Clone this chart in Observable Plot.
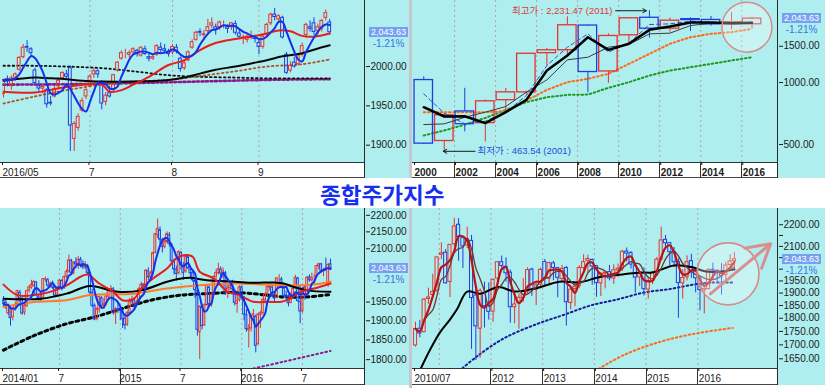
<!DOCTYPE html>
<html><head><meta charset="utf-8">
<script src="https://cdn.jsdelivr.net/npm/d3@7"></script>
<script src="https://cdn.jsdelivr.net/npm/@observablehq/plot@0.6"></script>
<style>
html,body{margin:0;padding:0;background:#fff;}
body{width:825px;height:388px;overflow:hidden;position:relative;font-family:"Liberation Sans",Arial,"Noto Sans CJK KR",sans-serif;}
.panel{position:absolute;background:#afeeee;overflow:hidden;}
.strip{position:absolute;background:#fff;border-top:1px solid #333;border-bottom:1px solid #444;box-sizing:border-box;}
.vline{position:absolute;background:#2a2a2a;width:1px;}
.sep{position:absolute;background:#333;width:1px;}
.tag{position:absolute;background:#78a0f0;color:#fff;font-size:9px;line-height:10px;height:10px;text-align:center;box-sizing:border-box;}
.pct{position:absolute;color:#3a74e4;font-size:10px;line-height:10px;text-align:center;}
#title{position:absolute;left:320px;top:178px;font-family:"Noto Sans CJK KR",sans-serif;font-weight:bold;font-size:21.5px;line-height:31px;height:31px;color:#1530f0;transform:scaleX(1.05);transform-origin:0 0;white-space:nowrap;}
#bar1,#bar2{position:absolute;left:409px;width:3px;background:#c4c8cc;}
</style></head><body>
<div id="bar1" style="top:0;height:178px"></div>
<div id="bar2" style="top:208px;height:180px"></div>
<div id="title">종합주가지수</div>
<script>
// ===== common values =====
const lastClose = 2043.63;
const lastCloseText = "2,043.63";
const lastChangeText = "-1.21%";

// ===== Panel 1: daily (2016/05/31 - 2016/09/30) =====
const dailyOHLC = [
 [1965,1984,1960,1983],[1984,1988,1974,1982],[1976,1988,1970,1985],[1986,1992,1981,1990],[1996,2013,1994,2011],
 [2012,2028,2010,2024],[2025,2033,2018,2024],[2022,2024,2012,2017],[1995,1998,1978,1979],[1975,1982,1968,1972],
 [1972,1978,1965,1974],[1970,1972,1947,1952],[1954,1962,1950,1953],[1962,1975,1960,1971],[1975,1985,1972,1982],
 [1985,1993,1982,1992],[1990,1995,1984,1987],[1998,2001,1892,1925],[1908,1930,1892,1927],[1922,1940,1918,1936],
 [1944,1960,1942,1956],[1962,1972,1958,1970],[1975,1990,1973,1987],[1990,1998,1985,1994],[1994,1996,1985,1990],
 [1980,1982,1945,1953],[1955,1967,1950,1963],[1966,1975,1960,1962],[1970,1990,1968,1989],[1995,2006,1993,2005],
 [2010,2020,2008,2017],[2016,2022,2010,2016],[2015,2020,2011,2017],[2018,2024,2014,2022],[2020,2022,2012,2016],
 [2014,2025,2012,2024],[2022,2026,2014,2016],[2012,2016,2006,2010],[2010,2016,2008,2012],[2015,2028,2013,2026],
 [2024,2030,2018,2021],[2022,2028,2017,2020],[2019,2022,2012,2016],[2018,2028,2015,2025],[2024,2028,2016,2019],
 [2010,2012,1993,1997],[1998,2008,1995,2004],[2008,2020,2006,2018],[2024,2034,2022,2031],[2034,2045,2032,2043],
 [2044,2048,2038,2043],[2040,2046,2036,2041],[2045,2060,2042,2050],[2052,2062,2048,2055],[2050,2054,2040,2047],
 [2050,2058,2046,2056],[2054,2058,2048,2054],[2050,2053,2042,2048],[2050,2056,2046,2055],[2054,2058,2040,2043],
 [2042,2046,2035,2038],[2036,2040,2028,2037],[2034,2040,2030,2038],[2040,2045,2034,2040],[2038,2040,2030,2035],
 [2030,2034,2015,2025],[2025,2040,2022,2038],[2040,2055,2038,2053],[2055,2068,2052,2066],[2066,2074,2058,2063],
 [2060,2066,2055,2064],[2062,2064,2035,2037],[2015,2018,1990,1992],[1995,2006,1992,2001],[2005,2012,1998,2000],
 [2003,2016,2001,2014],[2015,2030,2012,2026],[2040,2055,2036,2053],[2050,2058,2044,2048],[2055,2062,2040,2044],
 [2045,2054,2040,2050],[2048,2060,2044,2058],[2062,2072,2058,2068],[2056,2060,2040,2043.63]
];
const dailyMA20 = [[0,1968],[8,1967],[16,1974],[25,1977],[27,1968],[30,1970],[33,1977],[37,1987],[42,2002],[46,2008],[50,2021],[54,2030],[59,2035],[63,2038],[67,2042],[70,2046],[73,2045],[76,2039],[79,2038],[83,2042]];
const dailyMA60 = [[0,1982],[8,1986],[12,1985],[16,1984],[20,1982],[25,1981],[33,1981],[42,1983],[46,1986],[50,1991],[54,1996],[59,2000],[63,2004],[67,2008],[71,2013],[76,2017],[80,2023],[83,2027]];
const dailyMA120 = [[0,1953],[8,1962],[16,1970],[25,1977],[33,1981],[42,1983],[50,1988],[59,1994],[67,2000],[76,2003],[83,2009]];
const dailyMA200 = [[0,2001],[8,2001],[16,2000],[25,1998],[33,1994],[42,1989],[50,1987],[59,1986],[67,1985],[83,1985]];
const dailyMA240 = [[0,1977],[16,1977.5],[33,1979],[50,1981],[67,1983],[83,1984]];
const dailyTickIdx = [0,22,43,65];
const dailyTickLabels = ["2016/05","7","8","9"];
const dailyYTicks = [1900,1950,2000];

// ===== Panel 2: yearly 2000 - 2016 (log) =====
const yearlyYears = [2000,2001,2002,2003,2004,2005,2006,2007,2008,2009,2010,2011,2012,2013,2014,2015,2016];
const yearlyOHLC = [
 [1028,1066,500,505],[520,704,463.54,693.7],[724,937.6,576,627.6],[635,822,515,810.7],[821,936,719,895.9],
 [896,1379,870,1379.4],[1389,1464,1203,1434.5],[1435,2085,1345,1897.1],[1891,1901,892,1124.5],[1132,1723,992,1682.8],
 [1696,2052,1532,2051],[2063,2231.47,1644,1825.7],[1826,2057,1758,1997],[2031,2063,1770,2011],[2013,2093,1878,1915.6],
 [1914,2189,1800,1961.3],[1918,2073,1817,2043.63]
];
const yearlyMA3 = [759,684,686,635,718,824,1143,1352,1660,1441,1542,1802,1870,1956,1956,1942,1949];
const yearlyMA5 = [625,630,678,718,765,898,1030,1289,1327,1484,1530,1723,1737,1891,1942,1956,1956];
const yearlyMA2 = [881,710,630,649,718,865,1209,1484,1723,1404,1553,1913,1927,1985,1962,1956,1956];
const yearlyMA10 = [718,718,718,718,725,818,921,1004,1042,1102,1232,1378,1542,1660,1724,1757,1822];
const yearlyMA20 = [553,585,625,673,736,803,849,871,874,942,1004,1081,1143,1187,1232,1279,1327];
const yearlyTickYears = [2000,2002,2004,2006,2008,2010,2012,2014,2016];
const yearlyYTicks = [500,1000,1500];
const highNote = {text:"최고가 : 2,231.47 (2011)", year:2011, value:2231.47};
const lowNote = {text:"최저가 : 463.54 (2001)", year:2001, value:463.54};

// ===== Panel 3: weekly 2014/01 - 2016/09 (log) =====
const weeklyOHLC = [
 [1953,1965,1936,1946],[1948,1960,1930,1940],[1920,1945,1915,1941],[1935,1938,1886,1907],[1910,1934,1900,1930],
 [1932,1948,1925,1942],[1945,1982,1940,1980],[1975,1982,1948,1960],[1958,1965,1915,1919],[1922,1945,1914,1940],
 [1940,1982,1935,1980],[1982,1995,1975,1990],[1990,2010,1985,1997],[1995,2010,1990,2005],[2004,2006,1965,1970],
 [1965,1970,1950,1960],[1958,1975,1950,1957],[1960,2015,1958,2013],[2012,2019,2005,2013],[2010,2015,1990,1995],
 [1996,2005,1988,2001],[2000,2008,1985,1990],[1990,1995,1964,1968],[1970,1992,1965,1988],[1990,2012,1985,2009],
 [2008,2012,1980,1988],[1988,2022,1985,2019],[2020,2040,2015,2033],[2035,2082,2030,2066],[2065,2070,2028,2031],
 [2030,2062,2025,2060],[2060,2074,2050,2055],[2055,2078,2040,2068],[2068,2075,2045,2051],[2050,2065,2040,2047],
 [2046,2063,2040,2048],[2050,2055,2025,2031],[2030,2032,1970,1976],[1975,1985,1935,1940],[1940,1945,1900,1903],
 [1905,1935,1900,1931],[1930,1966,1920,1964],[1960,1965,1930,1939],[1940,1960,1930,1944],[1945,1972,1940,1965],
 [1965,1985,1955,1980],[1980,1995,1975,1986],[1985,1990,1915,1921],[1920,1935,1890,1930],[1930,1950,1920,1929],
 [1930,1935,1900,1926],[1925,1930,1880,1904],[1905,1915,1876,1888],[1890,1925,1885,1920],[1920,1960,1915,1952],
 [1950,1966,1940,1955],[1955,1962,1930,1940],[1942,1955,1938,1948],[1950,1990,1945,1985],[1985,2005,1980,1998],
 [1998,2000,1976,1986],[1988,2040,1985,2037],[2035,2045,2010,2019],[2018,2035,2010,2029],[2030,2090,2028,2087],
 [2088,2145,2085,2143],[2140,2189,2130,2159],[2155,2165,2110,2127],[2125,2130,2088,2106],[2105,2130,2100,2121],
 [2120,2150,2115,2143],[2140,2148,2105,2114],[2110,2115,2055,2064],[2062,2070,2025,2041],[2040,2050,2008,2028],
 [2030,2095,2025,2090],[2088,2092,2040,2053],[2050,2060,2010,2031],[2035,2080,2030,2076],[2075,2082,2040,2044],
 [2040,2045,2015,2030],[2030,2040,2005,2010],[2008,2012,1960,1983],[1980,1985,1860,1876],[1870,1940,1800,1937],
 [1935,1945,1876,1886],[1888,1945,1885,1941],[1942,1998,1938,1995],[1990,1995,1935,1943],[1942,1975,1936,1969],
 [1970,2022,1965,2019],[2020,2040,2010,2030],[2030,2058,2025,2041],[2040,2048,2020,2029],[2030,2045,2015,2035],
 [2030,2035,1968,1973],[1975,1995,1960,1987],[1988,2005,1980,1995],[1995,2010,1978,1985],[1980,1985,1940,1948],
 [1945,1965,1920,1952],[1955,1995,1950,1990],[1990,1995,1955,1961],[1960,1965,1900,1917],[1915,1930,1870,1878],
 [1875,1890,1829,1879],[1880,1915,1870,1912],[1912,1930,1895,1917],[1910,1915,1817,1835],[1840,1920,1835,1916],
 [1915,1925,1880,1920],[1920,1960,1915,1955],[1955,1975,1945,1971],[1972,1995,1965,1992],[1990,2003,1980,1992],
 [1990,1995,1965,1972],[1970,1975,1950,1960],[1962,2018,1960,2015],[2015,2026,2005,2015],[2012,2018,1990,1994],
 [1993,1997,1960,1967],[1968,1980,1955,1966],[1965,1970,1937,1947],[1948,1975,1945,1969],[1970,1992,1965,1986],
 [1988,2024,1985,2017],[2015,2018,1950,1953],[1950,1995,1892,1925],[1925,1990,1920,1987],[1990,1995,1955,1971],
 [1972,2020,1970,2017],[2018,2025,2005,2010],[2010,2030,2005,2016],[2018,2025,1995,2018],[2020,2052,2018,2050],
 [2050,2058,2040,2055],[2055,2058,2030,2037],[2035,2042,2020,2038],[2040,2073,2035,2037],[2000,2058,1991,2053],
 [2055,2070,2040,2043.63]
];
const weeklyMA20 = [[0,1998],[6,1969],[13,1969],[20,1978],[27,1996],[33,2020],[36,2026],[41,2001],[47,1978],[51,1955],[56,1960],[59,1987],[64,2015],[70,2043],[74,2072],[78,2082],[81,2077],[84,2034],[90,2015],[96,1978],[101,1969],[107,1951],[113,1951],[119,1951],[123,1960],[127,1978],[133,1987],[140,2001]];
const weeklyMA60 = [[0,1959],[16,1959],[27,1973],[37,1994],[49,1978],[59,1982],[70,2006],[76,2015],[80,2017],[87,2010],[99,2006],[107,2003],[116,2004],[120,2001],[124,1992],[130,1982],[140,1978]];
const weeklyMA40 = [[0,1937],[13,1950],[27,1955],[37,1969],[56,1973],[70,1987],[84,1996],[99,2001],[113,1998],[124,1996],[133,1998],[140,2006]];
const weeklyMA120 = [[0,1824],[13,1861],[27,1892],[39,1910],[50,1931],[63,1955],[76,1969],[87,1973],[99,1976],[110,1971],[120,1964],[130,1964],[140,1971]];
const weeklyMA240 = [[107,1778],[120,1795],[140,1822]];
const weeklyTickIdx = [0,24,50,76,102,128];
const weeklyTickLabels = ["2014/01","7","2015","7","2016","7"];
const weeklyMajorIdx = [50,102];
const weeklyYTicks = [1800,1850,1900,1950,2100,2150,2200];

// ===== Panel 4: monthly 2010/07 - 2016/09 (log) =====
const monthlyOHLC = [
 [1698,1785,1692,1759],[1760,1792,1726,1742],[1747,1878,1745,1873],[1876,1920,1855,1882],[1892,1978,1891,1905],[1910,2052,1900,2051],
 [2063,2116,2041,2069],[2072,2086,1938,1940],[1946,2107,1882,2107],[2110,2231,2100,2192],[2200,2229,2034,2142],[2140,2144,2003,2100],
 [2105,2188,2090,2133],[2125,2150,1684,1880],[1890,1913,1644,1769],[1760,1917,1652,1909],[1900,1945,1763,1847],[1850,1942,1793,1825],
 [1826,1958,1784,1955],[1960,2033,1937,2030],[2030,2057,1998,2014],[2010,2049,1945,1982],[1985,1996,1781,1843],[1843,1901,1779,1854],
 [1860,1897,1758,1881],[1880,1960,1862,1905],[1906,2006,1895,1996],[1998,2004,1887,1912],[1914,1939,1850,1932],[1935,2005,1928,1997],
 [2031,2042,1932,1961],[1960,2030,1934,2026],[2025,2034,1951,2005],[2004,2008,1881,1963],[1958,2016,1944,2001],[2005,2012,1770,1863],
 [1860,1918,1833,1914],[1917,1936,1845,1926],[1930,2015,1918,2005],[2005,2063,1986,2030],[2036,2061,1983,2044],[2040,2044,1932,2011],
 [2013,2013,1883,1941],[1940,1985,1886,1980],[1980,1990,1917,1985],[1987,2016,1950,1961],[1960,2019,1936,1995],[1994,2022,1964,2002],
 [2002,2082,1990,2076],[2077,2093,2031,2068],[2070,2077,2000,2020],[2015,2024,1900,1964],[1965,1986,1927,1980],[1982,2006,1888,1916],
 [1914,1966,1876,1949],[1950,1990,1935,1985],[1988,2051,1971,2041],[2042,2189,2035,2127],[2130,2150,2088,2114],[2115,2115,2008,2074],
 [2075,2095,2008,2030],[2030,2045,1800,1941],[1940,1998,1876,1963],[1965,2058,1950,2030],[2035,2065,1961,1991],[1990,2002,1901,1961],
 [1961,1967,1829,1912],[1911,1931,1817,1917],[1916,2003,1914,1996],[1997,2026,1958,1994],[1993,1997,1937,1983],[1984,2024,1892,1970],
 [1975,2030,1950,2016],[2018,2063,2013,2034],[2035,2073,1991,2043.63]
];
const monthlyMA12 = [[1.2,1615],[3.5,1686],[5.8,1749],[8,1795],[9.7,1837],[12,1906],[15,1897],[19.3,1925],[23,1906],[28,1920],[33.4,1947],[38,1944],[43,1968],[48,1977],[52,1986],[55,1986],[60,2016],[64,2009],[67.4,1990],[71,1990],[74,1999]];
const monthlyMA36 = [[10.9,1617],[14.3,1659],[20.5,1724],[28.2,1778],[34.4,1813],[40.6,1850],[46.8,1874],[53,1902],[59.2,1917],[64.6,1935],[68.5,1943],[73.9,1943]];
const monthlyMA60 = [[42.5,1615],[48.7,1666],[56.5,1710],[64.3,1740],[73.6,1763]];
const monthlyTickIdx = [-0.46,17.5,29.5,41.5,53.5,65.5];
const monthlyTickLabels = ["2010/07","2012","2013","2014","2015","2016"];
const monthlyGridIdx = [5.5,17.5,29.5,41.5,53.5,65.5];
const monthlyYTicks = [1650,1700,1750,1800,1850,1900,1950,2000,2050,2100,2150,2200];
const monthlyYLabels = [1650,1700,1750,1800,1850,1900,1950,2100,2200];
const circleNote = {m:72.5, value:1980};
const arrowNote = {m1:68.4, v1:1897, m2:82.4, v2:2112};

// ===== styles =====
const UP = "#e63232", DOWN = "#1f3ee0";
const FONT = "'Liberation Sans', Arial, 'Noto Sans CJK KR', sans-serif";

const toRows = (arr, xf) => arr.map((d,i)=>({x: xf(i), o:d[0], h:d[1], l:d[2], c:d[3]}));

function candleMarks(rows, hw, sw){
  const col = d => d.c >= d.o ? UP : DOWN;
  return [
    Plot.ruleX(rows, {x:"x", y1:"h", y2:d=>Math.max(d.o,d.c), stroke:col, strokeWidth:1, clip:true}),
    Plot.ruleX(rows, {x:"x", y1:d=>Math.min(d.o,d.c), y2:"l", stroke:col, strokeWidth:1, clip:true}),
    Plot.rect(rows, {x1:d=>d.x-hw, x2:d=>d.x+hw, y1:"o", y2:"c", fill:"none", stroke:col, strokeWidth:sw, clip:true})
  ];
}
const ptLine = (pts, opts) => Plot.line(pts, {x:d=>d[0], y:d=>d[1], curve:"catmull-rom", clip:true, ...opts});

function buildPanel(cfg){
  const wrap = document.createElement("div");
  wrap.className = "panel";
  Object.assign(wrap.style,{left:cfg.left+"px",top:cfg.top+"px",width:cfg.width+"px",height:cfg.height+"px"});
  const plotRight = cfg.width - cfg.mr;
  const plotBottom = cfg.height - cfg.mb;
  const strip = document.createElement("div");
  strip.className = "strip";
  Object.assign(strip.style,{left:"0px",top:plotBottom+"px",width:plotRight+"px",height:cfg.mb+"px"});
  wrap.appendChild(strip);
  const labelMap = new Map(cfg.xTicks.map((v,i)=>[v,cfg.xLabels[i]]));
  const ySet = new Set(cfg.yLabels || cfg.yTicks);
  const svg = Plot.plot({
    width: cfg.width, height: cfg.height,
    marginLeft: cfg.ml, marginRight: cfg.mr, marginTop: 0, marginBottom: cfg.mb,
    style: {background:"transparent", fontFamily: FONT, fontSize:"10px", color:"#1b1b1b", overflow:"visible"},
    x: {domain: cfg.xDomain, label: null},
    y: {type: cfg.yType, domain: cfg.yDomain, label: null},
    marks: [
      Plot.ruleX(cfg.grid, {stroke:"#b3a3a8", strokeDasharray:"2,3", strokeWidth:1}),
      ...cfg.marks,
      Plot.axisY(cfg.yTicks, {anchor:"right", label:null, tickSize:4, tickPadding:1, tickFormat: d => ySet.has(d) ? d.toFixed(2) : "", fontSize:10}),
      Plot.axisX(cfg.xTicks, {anchor:"bottom", label:null, tickSize:3, tickPadding:3, tickFormat: d => labelMap.get(d), textAnchor:"start", dx:cfg.xdx ?? 1, fontSize:10, fontWeight: cfg.boldX ? "bold" : "normal"})
    ]
  });
  const xs = svg.scale("x"), ys = svg.scale("y");
  for (const v of (cfg.major || [])) {
    const s = document.createElement("div");
    s.className = "sep";
    Object.assign(s.style,{left:Math.round(xs.apply(v))+"px",top:plotBottom+"px",height:cfg.mb+"px"});
    wrap.appendChild(s);
  }
  const vl = document.createElement("div");
  vl.className = "vline";
  Object.assign(vl.style,{left:(plotRight-1)+"px",top:"0px",height:cfg.height+"px"});
  wrap.appendChild(vl);
  svg.style.position = "absolute"; svg.style.left = "0px"; svg.style.top = "0px";
  wrap.appendChild(svg);
  const yv = ys.apply(lastClose);
  const tag = document.createElement("div");
  tag.className = "tag"; tag.textContent = lastCloseText;
  Object.assign(tag.style,{left:(plotRight+4)+"px",top:Math.round(yv-5)+"px",width:"39px"});
  const pct = document.createElement("div");
  pct.className = "pct"; pct.textContent = lastChangeText;
  Object.assign(pct.style,{left:(plotRight+4)+"px",top:Math.round(yv+7)+"px",width:"39px"});
  wrap.appendChild(tag); wrap.appendChild(pct);
  document.body.appendChild(wrap);
}

// ---- Panel 1 (top-left, daily) ----
const dRows = toRows(dailyOHLC, i=>i);
buildPanel({
  left:0, top:0, width:409, height:178, ml:2, mr:44, mb:16,
  xDomain:[-0.254, 92.11], yType:"linear", yDomain:[1878, 2084],
  yTicks: dailyYTicks, xTicks: dailyTickIdx, xLabels: dailyTickLabels, xdx:-1,
  grid: dailyTickIdx.slice(1), major: [],
  marks: [
    ptLine(dailyMA240, {stroke:"#8a1a8a", strokeWidth:2.6, strokeDasharray:"2,2.5"}),
    ptLine(dailyMA200, {stroke:"#111", strokeWidth:1.8, strokeDasharray:"1.6,3"}),
    ptLine(dailyMA120, {stroke:"#b4501c", strokeWidth:1.8, strokeDasharray:"1.6,3"}),
    ...candleMarks(dRows, 0.36, 1),
    ptLine(dailyMA60, {stroke:"#0a0a0a", strokeWidth:2}),
    ptLine(dailyMA20, {stroke:"#e61e1e", strokeWidth:2}),
    Plot.lineY(dRows, Plot.windowY({k:5, anchor:"end", reduce:"mean"}, {x:"x", y:"c", stroke:"#1430e8", strokeWidth:2, curve:"catmull-rom", clip:true}))
  ]
});

// ---- Panel 2 (top-right, yearly) ----
const yRows = toRows(yearlyOHLC, i=>yearlyYears[i]+0.5);
const yl = arr => arr.map((v,i)=>[yearlyYears[i]+0.5, v]);
buildPanel({
  left:412, top:0, width:413, height:178, ml:1, mr:47, mb:16,
  xDomain:[2000, 2017.79], yType:"log", yDomain:[409, 2502],
  yTicks: yearlyYTicks, xTicks: yearlyTickYears, xLabels: yearlyTickYears.map(String), boldX:true, xdx:1,
  grid: yearlyTickYears.slice(1), major: yearlyTickYears.slice(1),
  marks: [
    ptLine(yl(yearlyMA20), {stroke:"#1f9a1f", strokeWidth:2, strokeDasharray:"1.6,2.6", curve:"linear"}),
    ptLine(yl(yearlyMA10), {stroke:"#ff6a1a", strokeWidth:2, strokeDasharray:"1.6,2.6", curve:"linear"}),
    ...candleMarks(yRows, 0.45, 1.3),
    ptLine(yl(yearlyMA5), {stroke:"#3a3a3a", strokeWidth:1, curve:"linear"}),
    ptLine(yl(yearlyMA2), {stroke:"#3150c8", strokeWidth:1, strokeDasharray:"4,3", curve:"linear"}),
    ptLine(yl(yearlyMA3), {stroke:"#000", strokeWidth:2.5, curve:"linear"}),
    Plot.text([highNote], {x:2009.7, y:"value", text:"text", textAnchor:"end", fill:"#e23a3a", fontSize:9.5}),
    Plot.arrow([highNote], {x1:2009.85, x2:d=>d.year+0.35, y1:"value", y2:"value", stroke:"#1a1a1a", strokeWidth:1, headLength:6}),
    Plot.text([lowNote], {x:2003.12, y:"value", text:"text", textAnchor:"start", fill:"#2a4ae0", fontSize:9.5}),
    Plot.arrow([lowNote], {x1:2003.0, x2:d=>d.year+0.45, y1:"value", y2:"value", stroke:"#1a1a1a", strokeWidth:1, headLength:6}),
    Plot.dot([{x:2016.25, y:1857}], {x:"x", y:"y", r:25, fill:"#ffffff", fillOpacity:0.3, stroke:"#d88a8a", strokeWidth:1.5})
  ]
});

// ---- Panel 3 (bottom-left, weekly) ----
const wRows = toRows(weeklyOHLC, i=>i);
buildPanel({
  left:0, top:208, width:409, height:177, ml:2, mr:44, mb:17,
  xDomain:[-0.428, 154.97], yType:"log", yDomain:[1778, 2221],
  yTicks: weeklyYTicks, xTicks: weeklyTickIdx, xLabels: weeklyTickLabels, xdx:-1,
  grid: weeklyTickIdx.slice(1), major: weeklyMajorIdx,
  marks: [
    ptLine(weeklyMA240, {stroke:"#8a1a8a", strokeWidth:2, strokeDasharray:"1.6,3"}),
    ptLine(weeklyMA120, {stroke:"#050505", strokeWidth:3, strokeDasharray:"3,3.5"}),
    ...candleMarks(wRows, 0.4, 1),
    ptLine(weeklyMA40, {stroke:"#ff7a2a", strokeWidth:2}),
    ptLine(weeklyMA60, {stroke:"#000", strokeWidth:2}),
    ptLine(weeklyMA20, {stroke:"#e61e1e", strokeWidth:2}),
    Plot.lineY(wRows, Plot.windowY({k:5, anchor:"end", reduce:"mean"}, {x:"x", y:"c", stroke:"#1430e8", strokeWidth:2, curve:"catmull-rom", clip:true}))
  ]
});

// ---- Panel 4 (bottom-right, monthly) ----
const mRows = toRows(monthlyOHLC, i=>i);
buildPanel({
  left:412, top:208, width:413, height:177, ml:1, mr:47, mb:17,
  xDomain:[-0.464, 84.22], yType:"log", yDomain:[1616, 2278],
  yTicks: monthlyYTicks, yLabels: monthlyYLabels, xTicks: monthlyTickIdx, xLabels: monthlyTickLabels, xdx:1,
  grid: monthlyGridIdx, major: monthlyTickIdx.slice(1),
  marks: [
    ptLine(monthlyMA60, {stroke:"#ff6a1a", strokeWidth:2, strokeDasharray:"1.6,2.8"}),
    ptLine(monthlyMA36, {stroke:"#1a1a9a", strokeWidth:2, strokeDasharray:"1.6,2.8"}),
    ...candleMarks(mRows, 0.36, 1),
    ptLine(monthlyMA12, {stroke:"#000", strokeWidth:2}),
    Plot.lineY(mRows, Plot.windowY({k:5, anchor:"end", reduce:"mean"}, {x:"x", y:"c", stroke:"#6a3a3a", strokeWidth:1.3, curve:"catmull-rom", clip:true})),
    Plot.lineY(mRows, Plot.windowY({k:3, anchor:"end", reduce:"mean"}, {x:"x", y:"c", stroke:"#b81414", strokeWidth:2.2, curve:"catmull-rom", clip:true})),
    Plot.dot([circleNote], {x:"m", y:"value", r:31, fill:"#ffffff", fillOpacity:0.3, stroke:"#d88a8a", strokeWidth:1.6}),
    Plot.arrow([arrowNote], {x1:"m1", y1:"v1", x2:"m2", y2:"v2", stroke:"#d98f8f", strokeWidth:3, headLength:14})
  ]
});
</script>
</body></html>
